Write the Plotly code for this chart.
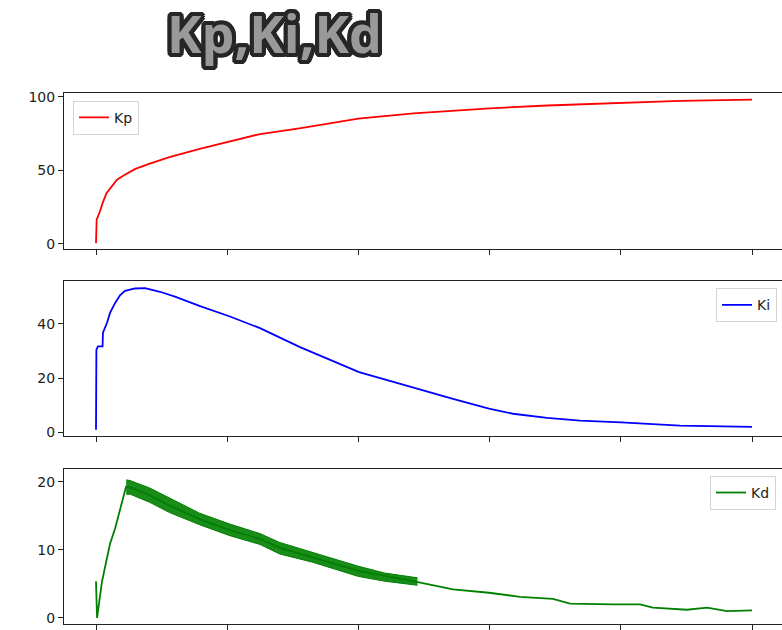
import plotly.graph_objects as go

# ---------------- data ----------------
t_kp = [0, 0.5, 3, 5, 8, 12, 16, 22, 30, 41, 56, 79, 102, 125, 155, 200, 242, 300, 344, 400, 445, 500]
kp = [0.5, 16.5, 22, 27.7, 34.4, 39, 43.6, 47, 51, 54.6, 59, 64.6, 69.8, 74.7, 78.6, 85.2, 88.7, 92.2, 94.1, 96.0, 97.2, 98.1]

t_ki = [0, 0.3, 1.5, 5, 5.3, 8.4, 10.7, 14.5, 18.3, 22.1, 29.7, 37.3, 48.8, 60.2, 79.3, 102.1, 125,
        140.2, 155.5, 200.5, 241.6, 272.1, 299.5, 317.8, 343.8, 368.9, 400.2, 445.1, 500]
ki = [1, 30.5, 31.7, 31.7, 36.7, 40.4, 44, 47.6, 50.5, 52.1, 53, 53.1, 51.8, 50, 46.5, 42.7, 38.4,
      35, 31.4, 22.2, 16.5, 12.4, 8.8, 6.9, 5.4, 4.4, 3.7, 2.5, 2.1]

t_kd = [0, 0.8, 4.6, 10.7, 14.5, 18.3, 20.5, 22.9, 26, 41.2, 56.4, 79.3, 102.1, 125, 140.2, 165.4,
        200.5, 241.6, 272.1, 299.5, 323.2, 348.3, 361.3, 394, 414.6, 424.5, 450.5, 465.7, 481, 500]
kd = [5.4, 0, 5.4, 10.9, 13.1, 15.8, 17.7, 19.3, 19.2, 18.0, 16.5, 14.5, 12.9, 11.6, 10.3, 8.9,
      6.9, 5.4, 4.2, 3.7, 3.1, 2.8, 2.1, 2.0, 2.0, 1.5, 1.2, 1.5, 1.0, 1.1]

# oscillation envelope of Kd (the dense saw-tooth band)
t_kd_band = [23, 26, 41, 56, 79, 102, 125, 140, 165, 200, 220, 245]
kd_upper = [20.3, 20.2, 19.1, 17.6, 15.4, 13.8, 12.4, 11.1, 9.6, 7.6, 6.6, 5.9]
kd_lower = [18.2, 18.2, 17.0, 15.5, 13.7, 12.1, 10.8, 9.4, 8.2, 6.1, 5.4, 4.8]

x_ticks = [0, 100, 200, 300, 400, 500]
kp_ticks = [0, 50, 100]
ki_ticks = [0, 20, 40]
kd_ticks = [0, 10, 20]

title_text = "Kp,Ki,Kd"

# ---------------- figure ----------------
W, H = 782, 630
fig = go.Figure()

fig.add_trace(go.Scatter(x=t_kp, y=kp, mode="lines", name="Kp",
                         line=dict(color="#ff0000", width=1.8),
                         xaxis="x", yaxis="y", legend="legend"))
fig.add_trace(go.Scatter(x=t_ki, y=ki, mode="lines", name="Ki",
                         line=dict(color="#0000ff", width=1.8),
                         xaxis="x2", yaxis="y2", legend="legend2"))
fig.add_trace(go.Scatter(x=t_kd_band, y=kd_upper, mode="lines", showlegend=False,
                         line=dict(color="#008000", width=1), hoverinfo="skip",
                         xaxis="x3", yaxis="y3"))
fig.add_trace(go.Scatter(x=t_kd_band, y=kd_lower, mode="lines", showlegend=False,
                         line=dict(color="#008000", width=1), fill="tonexty",
                         fillcolor="rgba(0,128,0,0.9)", hoverinfo="skip",
                         xaxis="x3", yaxis="y3"))
fig.add_trace(go.Scatter(x=t_kd, y=kd, mode="lines", name="Kd",
                         line=dict(color="#008000", width=1.8),
                         xaxis="x3", yaxis="y3", legend="legend3"))

x_left = (64 - 96) * 500 / 656
x_right = (782 - 96) * 500 / 656
xdom = [64 / W, 1.0]

def dom(top_px, bot_px):
    return [1 - bot_px / H, 1 - top_px / H]

axis_common_x = dict(range=[x_left, x_right], tickvals=x_ticks, showticklabels=False,
                     ticks="outside", ticklen=5, tickwidth=1, tickcolor="#222",
                     showline=True, linecolor="#222", linewidth=1, mirror=True,
                     showgrid=False, zeroline=False, domain=xdom)
axis_common_y = dict(ticks="outside", ticklen=5, tickwidth=1, tickcolor="#222",
                     showline=True, linecolor="#222", linewidth=1, mirror=False,
                     showgrid=False, zeroline=False,
                     tickfont=dict(family="DejaVu Sans", size=14, color="#222"))

fig.update_layout(
    width=W, height=H,
    margin=dict(l=0, r=0, t=0, b=0),
    paper_bgcolor="white", plot_bgcolor="white",
    xaxis=dict(axis_common_x, anchor="y"),
    xaxis2=dict(axis_common_x, anchor="y2"),
    xaxis3=dict(axis_common_x, anchor="y3"),
    yaxis=dict(axis_common_y, anchor="x", domain=dom(90, 248), range=[-3.4, 102.7], tickvals=kp_ticks),
    yaxis2=dict(axis_common_y, anchor="x2", domain=dom(281, 438), range=[-1.45, 55.6], tickvals=ki_ticks),
    yaxis3=dict(axis_common_y, anchor="x3", domain=dom(471, 628), range=[-0.9, 21.9], tickvals=kd_ticks),
)

legend_common = dict(bgcolor="rgba(255,255,255,0.8)", bordercolor="#d4d4d4", borderwidth=1,
                     font=dict(family="DejaVu Sans", size=14, color="#222"),
                     yanchor="top", itemwidth=30)
fig.update_layout(
    legend=dict(legend_common, x=73 / W, xanchor="left", y=1 - 98 / H),
    legend2=dict(legend_common, x=777 / W, xanchor="right", y=1 - 288 / H),
    legend3=dict(legend_common, x=776 / W, xanchor="right", y=1 - 478 / H),
)

oc = "#262626"
offs = [(-3, -3), (3, -3), (-3, 3), (3, 3), (0, 4), (0, -4), (4, 0), (-4, 0),
        (-2, -4), (2, -4), (-2, 4), (2, 4), (4, -2), (4, 2), (-4, -2), (-4, 2)]
shadow = ", ".join(f"{dx}px {dy}px 0 {oc}" for dx, dy in offs)
fig.add_annotation(text=title_text, xref="paper", yref="paper", x=274 / W, y=1 - 29 / H,
                   xanchor="center", yanchor="middle", showarrow=False,
                   font=dict(family="Open Sans", size=52, color="#999999", weight="bold",
                             shadow=shadow))

fig.write_html("out.html", config={"displayModeBar": False},
               post_script="document.body.style.margin='0';")
